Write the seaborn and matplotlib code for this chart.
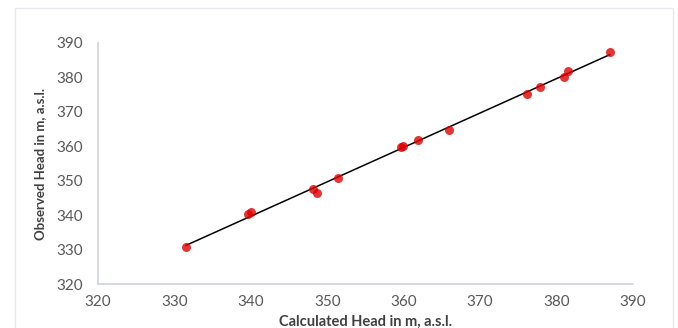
import matplotlib
matplotlib.use("Agg")
import matplotlib.pyplot as plt
import pandas as pd
import seaborn as sns
from matplotlib.patches import Rectangle

# values
calculated = [331.5, 339.6, 340.0, 348.1, 348.7, 351.4, 359.6, 359.9, 361.9,
              365.9, 376.1, 377.8, 381.0, 381.5, 387.0]
observed = [330.8, 340.3, 340.8, 347.6, 346.5, 350.8, 359.8, 360.2, 361.9,
            364.8, 375.1, 377.2, 380.2, 381.8, 387.4]
ticks = [320, 330, 340, 350, 360, 370, 380, 390]

df = pd.DataFrame({'calc': calculated, 'obs': observed})

sns.set_style('white')
plt.rcParams['font.family'] = ['Lato', 'DejaVu Sans']

fig = plt.figure(figsize=(6.78, 3.28), dpi=100)
ax = fig.add_axes([98 / 678, 1 - 284 / 328, (633 - 98) / 678, (284 - 43) / 328])

sns.regplot(x='calc', y='obs', data=df, ci=None, ax=ax,
            scatter_kws={'color': '#e00000', 's': 42, 'linewidths': 0, 'zorder': 3},
            line_kws={'color': 'black', 'linewidth': 1.1, 'zorder': 2})

ax.set_xlim(320, 390)
ax.set_ylim(320, 390)
ax.set_xticks(ticks)
ax.set_yticks(ticks)
ax.tick_params(axis='both', length=0, labelsize=11, labelcolor='#595959')
ax.tick_params(axis='x', pad=8)
ax.tick_params(axis='y', pad=11)
for s in ['top', 'right']:
    ax.spines[s].set_visible(False)
for s in ['left', 'bottom']:
    ax.spines[s].set_color('#d0d4dc')
    ax.spines[s].set_linewidth(1.2)

ax.set_xlabel('Calculated Head in m, a.s.l.', fontsize=10.5, fontweight='bold',
              color='#404040', labelpad=4)
ax.set_ylabel('Observed Head in m, a.s.l.', fontsize=9.5, fontweight='bold',
              color='#404040', labelpad=7)

# faint chart border
fig.patches.append(Rectangle((15 / 678, -0.01), 658 / 678, 1 - 8 / 328 + 0.01,
                             transform=fig.transFigure, fill=False,
                             edgecolor='#e6e8ee', linewidth=1))

fig.savefig('out.png', dpi=100)
